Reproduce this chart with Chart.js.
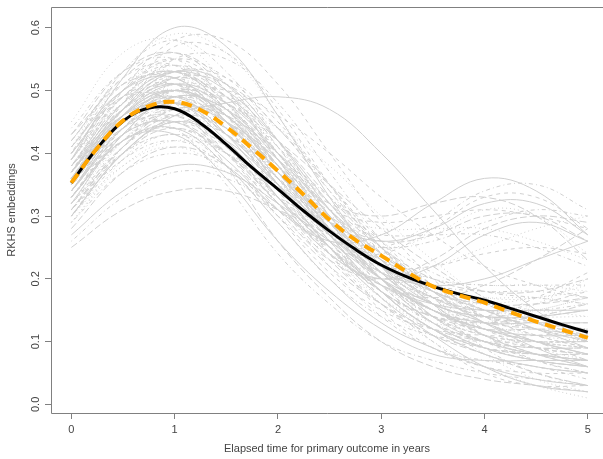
<!DOCTYPE html>
<html>
<head>
<meta charset="utf-8">
<script src="https://cdn.jsdelivr.net/npm/chart.js@4/dist/chart.umd.min.js"></script>
<style>
  html, body { margin: 0; padding: 0; background: #ffffff; }
  canvas { display: block; }
</style>
</head>
<body>
<canvas id="c" width="603" height="459"></canvas>
<script>
// ---- data ----
const xTicks = [0, 1, 2, 3, 4, 5];
const yTicks = [0.0, 0.1, 0.2, 0.3, 0.4, 0.5, 0.6];
const yTickLabels = ["0.0", "0.1", "0.2", "0.3", "0.4", "0.5", "0.6"];
const xTitle = "Elapsed time for primary outcome in years";
const yTitle = "RKHS embeddings";

// main curves, sampled every 0.25 years
const mainX = [0, 0.25, 0.5, 0.75, 1, 1.25, 1.5, 1.75, 2, 2.25, 2.5, 2.75, 3, 3.25, 3.5, 3.75, 4, 4.25, 4.5, 4.75, 5];
const meanCurve = [0.353, 0.408, 0.451, 0.472, 0.471, 0.448, 0.414, 0.377, 0.343, 0.308, 0.276, 0.247, 0.222, 0.203, 0.188, 0.176, 0.166, 0.153, 0.140, 0.127, 0.115];
const orangeCurve = [0.353, 0.408, 0.452, 0.475, 0.482, 0.469, 0.442, 0.408, 0.372, 0.334, 0.294, 0.262, 0.237, 0.211, 0.188, 0.174, 0.162, 0.147, 0.132, 0.119, 0.106];

// individual gray curves, sampled every 0.5 years
const grayX = [0, 0.5, 1, 1.5, 2, 2.5, 3, 3.5, 4, 4.5, 5];
const grayCurves = [
  [0.36,0.46,0.50,0.45,0.36,0.27,0.20,0.15,0.12,0.10,0.08],
  [0.33,0.43,0.47,0.43,0.35,0.26,0.18,0.12,0.08,0.06,0.05],
  [0.40,0.50,0.53,0.47,0.37,0.28,0.22,0.18,0.16,0.15,0.14],
  [0.38,0.49,0.54,0.50,0.40,0.29,0.20,0.14,0.11,0.10,0.10],
  [0.42,0.52,0.56,0.51,0.41,0.30,0.21,0.16,0.14,0.14,0.15],
  [0.30,0.40,0.45,0.42,0.35,0.28,0.22,0.18,0.15,0.12,0.09],
  [0.35,0.45,0.49,0.44,0.34,0.24,0.16,0.11,0.09,0.08,0.07],
  [0.31,0.42,0.48,0.46,0.39,0.30,0.22,0.16,0.12,0.09,0.07],
  [0.44,0.53,0.55,0.48,0.38,0.28,0.20,0.15,0.12,0.10,0.09],
  [0.37,0.47,0.52,0.49,0.42,0.33,0.25,0.19,0.15,0.12,0.10],
  [0.34,0.44,0.48,0.45,0.39,0.31,0.24,0.18,0.13,0.09,0.06],
  [0.39,0.50,0.55,0.52,0.44,0.35,0.26,0.19,0.14,0.11,0.09],
  [0.29,0.38,0.42,0.40,0.34,0.27,0.21,0.17,0.15,0.14,0.14],
  [0.32,0.40,0.43,0.40,0.33,0.25,0.18,0.13,0.10,0.08,0.07],
  [0.25,0.31,0.34,0.34,0.31,0.27,0.23,0.19,0.16,0.13,0.11],
  [0.27,0.34,0.38,0.37,0.32,0.26,0.20,0.16,0.13,0.10,0.08],
  [0.36,0.48,0.57,0.56,0.47,0.35,0.24,0.16,0.11,0.09,0.08],
  [0.41,0.53,0.59,0.56,0.46,0.34,0.24,0.17,0.13,0.11,0.10],
  [0.35,0.47,0.55,0.55,0.48,0.37,0.26,0.17,0.11,0.07,0.05],
  [0.43,0.51,0.52,0.45,0.35,0.25,0.18,0.14,0.12,0.12,0.12],
  [0.37,0.46,0.49,0.43,0.33,0.24,0.20,0.22,0.27,0.29,0.26],
  [0.33,0.43,0.46,0.41,0.32,0.25,0.24,0.28,0.33,0.33,0.28],
  [0.39,0.48,0.51,0.45,0.36,0.28,0.25,0.27,0.31,0.30,0.24],
  [0.31,0.39,0.42,0.38,0.31,0.26,0.25,0.29,0.34,0.35,0.31],
  [0.36,0.44,0.46,0.40,0.31,0.23,0.20,0.23,0.28,0.30,0.29],
  [0.34,0.45,0.50,0.46,0.37,0.29,0.26,0.28,0.32,0.32,0.27],
  [0.40,0.49,0.51,0.44,0.34,0.26,0.22,0.22,0.24,0.25,0.24],
  [0.30,0.38,0.41,0.37,0.30,0.24,0.21,0.22,0.25,0.28,0.30],
  [0.35,0.42,0.44,0.40,0.33,0.27,0.25,0.26,0.29,0.31,0.30],
  [0.38,0.47,0.50,0.46,0.38,0.30,0.26,0.27,0.30,0.30,0.26],
  [0.30,0.40,0.46,0.48,0.49,0.47,0.40,0.31,0.22,0.15,0.10],
  [0.34,0.44,0.50,0.50,0.46,0.40,0.33,0.27,0.22,0.19,0.17],
  [0.29,0.39,0.46,0.47,0.44,0.38,0.30,0.23,0.17,0.13,0.10],
  [0.37,0.45,0.44,0.35,0.24,0.16,0.10,0.07,0.05,0.04,0.03],
  [0.40,0.49,0.48,0.38,0.26,0.17,0.10,0.06,0.04,0.03,0.02],
  [0.33,0.42,0.44,0.38,0.29,0.20,0.13,0.09,0.06,0.04,0.03],
  [0.42,0.52,0.54,0.46,0.35,0.24,0.15,0.09,0.06,0.05,0.05],
  [0.38,0.49,0.53,0.47,0.36,0.25,0.16,0.10,0.06,0.03,0.01],
  [0.35,0.44,0.47,0.41,0.32,0.22,0.14,0.09,0.07,0.06,0.04],
  [0.31,0.40,0.44,0.40,0.32,0.23,0.16,0.11,0.08,0.05,0.03],
  [0.36,0.46,0.51,0.48,0.40,0.30,0.21,0.15,0.12,0.11,0.11],
  [0.37,0.47,0.51,0.46,0.37,0.28,0.21,0.17,0.15,0.16,0.18],
  [0.34,0.45,0.51,0.49,0.41,0.31,0.22,0.16,0.14,0.15,0.17],
  [0.39,0.50,0.54,0.49,0.40,0.31,0.24,0.20,0.19,0.19,0.19],
  [0.33,0.43,0.49,0.47,0.40,0.31,0.23,0.18,0.16,0.16,0.17],
  [0.36,0.47,0.53,0.51,0.42,0.31,0.22,0.16,0.14,0.14,0.15],
  [0.41,0.51,0.55,0.50,0.39,0.28,0.19,0.13,0.10,0.08,0.07],
  [0.32,0.41,0.46,0.44,0.37,0.30,0.23,0.19,0.17,0.17,0.19],
  [0.38,0.48,0.52,0.47,0.38,0.29,0.22,0.17,0.15,0.15,0.16],
  [0.35,0.46,0.52,0.51,0.44,0.34,0.25,0.18,0.13,0.10,0.07],
  [0.39,0.52,0.60,0.57,0.46,0.33,0.22,0.14,0.10,0.08,0.07],
  [0.37,0.50,0.58,0.58,0.51,0.40,0.29,0.20,0.14,0.11,0.09],
  [0.45,0.56,0.58,0.51,0.40,0.28,0.19,0.13,0.10,0.09,0.09],
  [0.40,0.53,0.58,0.53,0.42,0.30,0.20,0.13,0.09,0.07,0.06],
  [0.34,0.43,0.45,0.40,0.32,0.24,0.19,0.17,0.19,0.23,0.28],
  [0.36,0.45,0.48,0.43,0.35,0.27,0.21,0.19,0.20,0.23,0.26],
  [0.32,0.41,0.45,0.41,0.33,0.25,0.18,0.14,0.14,0.17,0.21],
  [0.38,0.47,0.49,0.43,0.33,0.24,0.17,0.13,0.13,0.16,0.20],
  [0.30,0.39,0.43,0.38,0.29,0.20,0.14,0.11,0.10,0.10,0.10],
  [0.28,0.37,0.41,0.38,0.30,0.22,0.16,0.12,0.10,0.09,0.09],
  [0.33,0.42,0.43,0.36,0.26,0.18,0.12,0.08,0.07,0.07,0.07],
  [0.36,0.45,0.47,0.40,0.30,0.21,0.15,0.12,0.11,0.11,0.12],
  [0.32,0.42,0.47,0.44,0.35,0.25,0.17,0.12,0.09,0.08,0.08],
  [0.26,0.33,0.37,0.36,0.31,0.25,0.19,0.15,0.12,0.10,0.09],
  [0.40,0.50,0.53,0.47,0.37,0.26,0.18,0.12,0.09,0.08,0.08],
  [0.37,0.48,0.53,0.50,0.42,0.32,0.23,0.16,0.11,0.08,0.06],
  [0.35,0.44,0.48,0.45,0.38,0.29,0.21,0.15,0.11,0.08,0.06],
  [0.39,0.48,0.50,0.44,0.35,0.27,0.21,0.18,0.17,0.17,0.16],
  [0.33,0.42,0.47,0.46,0.40,0.33,0.26,0.21,0.18,0.17,0.16],
  [0.31,0.41,0.47,0.46,0.40,0.32,0.25,0.20,0.18,0.18,0.20],
  [0.34,0.43,0.45,0.39,0.31,0.26,0.27,0.32,0.36,0.34,0.27],
  [0.37,0.46,0.48,0.43,0.36,0.31,0.29,0.30,0.31,0.30,0.28],
  [0.32,0.40,0.43,0.40,0.35,0.30,0.28,0.28,0.28,0.26,0.23],
  [0.29,0.37,0.40,0.38,0.33,0.29,0.27,0.27,0.27,0.25,0.22],
  [0.36,0.45,0.49,0.45,0.38,0.32,0.30,0.32,0.33,0.30,0.23],
  [0.41,0.50,0.52,0.45,0.35,0.25,0.17,0.11,0.06,0.03,0.02],
  [0.34,0.45,0.50,0.46,0.37,0.27,0.17,0.10,0.05,0.03,0.03],
  [0.38,0.47,0.50,0.45,0.37,0.29,0.21,0.14,0.08,0.04,0.02],
  [0.30,0.41,0.48,0.49,0.44,0.35,0.25,0.16,0.09,0.05,0.03],
  [0.35,0.45,0.50,0.48,0.42,0.35,0.28,0.22,0.17,0.13,0.10],
  [0.37,0.47,0.51,0.47,0.38,0.28,0.20,0.15,0.13,0.13,0.13],
  [0.35,0.46,0.52,0.49,0.40,0.29,0.20,0.14,0.11,0.10,0.10],
  [0.41,0.51,0.54,0.48,0.38,0.28,0.21,0.17,0.16,0.17,0.18],
  [0.33,0.44,0.50,0.48,0.41,0.32,0.24,0.18,0.14,0.12,0.11],
  [0.38,0.48,0.51,0.45,0.35,0.25,0.18,0.14,0.13,0.14,0.16],
  [0.36,0.46,0.50,0.46,0.37,0.27,0.18,0.12,0.08,0.06,0.05],
  [0.30,0.40,0.45,0.43,0.36,0.28,0.20,0.14,0.10,0.07,0.05],
  [0.39,0.49,0.52,0.46,0.36,0.26,0.19,0.15,0.14,0.15,0.17],
  [0.34,0.44,0.49,0.46,0.38,0.29,0.22,0.17,0.14,0.12,0.10],
  [0.43,0.53,0.56,0.50,0.39,0.28,0.20,0.15,0.13,0.12,0.11],
  [0.32,0.43,0.49,0.47,0.39,0.29,0.20,0.13,0.09,0.07,0.06],
  [0.37,0.48,0.53,0.49,0.39,0.28,0.19,0.13,0.10,0.09,0.09],
  [0.35,0.45,0.49,0.45,0.37,0.29,0.23,0.20,0.19,0.19,0.18],
  [0.40,0.50,0.53,0.48,0.39,0.30,0.23,0.18,0.15,0.13,0.12],
  [0.31,0.41,0.46,0.44,0.37,0.29,0.22,0.17,0.14,0.13,0.13],
  [0.38,0.46,0.48,0.42,0.33,0.25,0.19,0.16,0.15,0.15,0.15],
  [0.36,0.47,0.53,0.52,0.45,0.35,0.25,0.17,0.12,0.09,0.08],
  [0.42,0.51,0.53,0.46,0.36,0.26,0.19,0.14,0.11,0.09,0.08],
  [0.33,0.42,0.46,0.43,0.36,0.28,0.22,0.19,0.18,0.18,0.17],
  [0.39,0.49,0.53,0.48,0.38,0.27,0.18,0.12,0.09,0.07,0.06]
];

// ---- styling ----
const grayColor = '#d0d0d0';
const lineStyles = [[], [4, 4], [1, 3], [1, 3, 4, 3], [7, 3]];
const axisColor = '#808080';
const textColor = '#444444';
const fontFamily = '"Liberation Sans", Arial, Helvetica, sans-serif';

const toPoints = (xs, ys) => xs.map((x, i) => ({ x: x, y: ys[i] }));

const datasets = [];
datasets.push({
  data: toPoints(mainX, orangeCurve),
  borderColor: '#FFA500', borderWidth: 4, borderDash: [11, 7],
  pointRadius: 0, tension: 0.4, fill: false
});
datasets.push({
  data: toPoints(mainX, meanCurve),
  borderColor: '#000000', borderWidth: 3,
  pointRadius: 0, tension: 0.4, fill: false
});
grayCurves.forEach((c, i) => {
  datasets.push({
    data: toPoints(grayX, c),
    borderColor: grayColor, borderWidth: 1,
    borderDash: lineStyles[i % lineStyles.length],
    pointRadius: 0, tension: 0.4, fill: false
  });
});

const framePlugin = {
  id: 'frame',
  afterDatasetsDraw(chart) {
    const { ctx, chartArea: a } = chart;
    ctx.save();
    ctx.strokeStyle = axisColor;
    ctx.lineWidth = 1;
    ctx.beginPath();
    const l = Math.round(a.left) + 0.5, t = Math.round(a.top) + 0.5, b = Math.round(a.bottom) + 0.5, r = a.right + 2;
    ctx.moveTo(r, t); ctx.lineTo(l, t); ctx.lineTo(l, b); ctx.lineTo(r, b);
    ctx.stroke();
    // rotated y tick labels, placed by the y scale
    const ys = chart.scales.y;
    ctx.fillStyle = textColor;
    ctx.font = '11px ' + fontFamily;
    ctx.textAlign = 'center';
    ctx.textBaseline = 'middle';
    yTicks.forEach((v, i) => {
      const py = ys.getPixelForValue(v);
      ctx.save();
      ctx.translate(36, py);
      ctx.rotate(-Math.PI / 2);
      ctx.fillText(yTickLabels[i], 0, 0);
      ctx.restore();
    });
    ctx.restore();
  }
};

new Chart(document.getElementById('c'), {
  type: 'line',
  data: { datasets: datasets },
  plugins: [framePlugin],
  options: {
    responsive: false,
    animation: false,
    devicePixelRatio: 1,
    layout: { padding: { top: 7, right: 0, left: 0, bottom: 0 } },
    plugins: { legend: { display: false }, tooltip: { enabled: false } },
    scales: {
      x: {
        type: 'linear', min: -0.197, max: 5.147,
        afterBuildTicks: s => { s.ticks = xTicks.map(v => ({ value: v })); },
        afterFit: s => { s.height = 46; },
        grid: { display: true, drawOnChartArea: false, drawTicks: true, tickLength: 6, color: axisColor },
        border: { display: false },
        ticks: { color: textColor, font: { size: 11, family: fontFamily }, padding: 4, maxRotation: 0, callback: v => String(v) },
        title: { display: true, text: xTitle, color: textColor, font: { size: 11, family: fontFamily }, padding: { top: 0, bottom: 3 } }
      },
      y: {
        type: 'linear', min: -0.0137, max: 0.633,
        afterBuildTicks: s => { s.ticks = yTicks.map(v => ({ value: v })); },
        afterFit: s => { s.width = 51; },
        grid: { display: true, drawOnChartArea: false, drawTicks: true, tickLength: 6, color: axisColor },
        border: { display: false },
        ticks: { display: false },
        title: { display: true, text: yTitle, color: textColor, font: { size: 11, family: fontFamily }, padding: { top: 5, bottom: 0 } }
      }
    }
  }
});
</script>
</body>
</html>
